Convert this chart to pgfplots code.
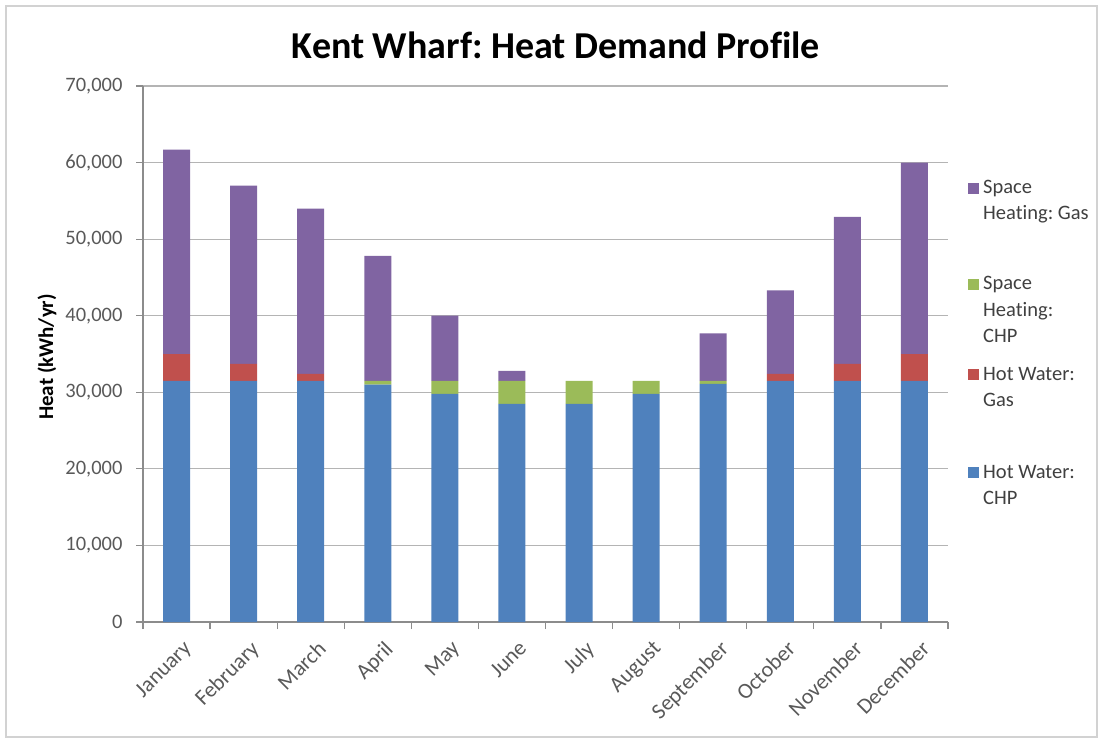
\documentclass[border=0pt]{standalone}
\usepackage{fontspec}
\setmainfont{Carlito}[Ligatures=NoCommon]
\usepackage{pgfplots}
\pgfplotsset{compat=1.18}
\usepackage{pgfplotstable}
\definecolor{hwchp}{HTML}{4F81BD}
\definecolor{hwgas}{HTML}{C0504D}
\definecolor{shchp}{HTML}{9BBB59}
\definecolor{shgas}{HTML}{8064A2}
\definecolor{ticktext}{HTML}{595959}
\definecolor{legtext}{HTML}{404040}
\definecolor{axline}{HTML}{8C8C8C}
\definecolor{gridc}{HTML}{B4B4B4}
\frenchspacing

\pgfplotstableread{
x  hwchp hwgas shchp shgas
0  31500 3500  0     26700
1  31500 2200  0     23300
2  31500 900   0     21600
3  31000 0     500   16300
4  29800 0     1700  8500
5  28500 0     3000  1300
6  28500 0     3000  0
7  29800 0     1700  0
8  31100 0     400   6200
9  31500 900   0     10900
10 31500 2200  0     19200
11 31500 3500  0     25000
}\data

\begin{document}
\begin{tikzpicture}[x=1pt,y=1pt]
\useasboundingbox (0,0) rectangle (1102,740);
\draw[gray!35, line width=1.5pt] (6,3) rectangle (1097,734);
\begin{axis}[
  at={(143pt,118pt)}, anchor=south west,
  scale only axis, width=805pt, height=536pt,
  ybar stacked, bar width=27pt,
  xmin=-0.5, xmax=11.5, ymin=0, ymax=70000,
  ytick={0,10000,...,70000},
  xtick={0,...,11},
  xticklabels={January,February,March,April,May,June,July,August,September,October,November,December},
  minor xtick={-0.5,0.5,...,11.5},
  axis x line*=bottom, axis y line*=left,
  axis line style={draw=axline, line width=1.2pt},
  ymajorgrids, grid style={draw=gridc, line width=1.2pt},
  major x tick style={draw=none},
  minor x tick style={draw=axline, line width=1.2pt},
  major y tick style={draw=axline, line width=1.2pt},
  tick align=outside, major tick length=7pt, minor tick length=7pt,
  scaled y ticks=false,
  /pgf/number format/fixed,
  /pgf/number format/1000 sep={,},
  /pgf/number format/assume math mode=true,
  y tick label style={font=\fontsize{20.5}{24}\selectfont, text=ticktext, anchor=east, xshift=-10pt},
  x tick label style={font=\fontsize{22}{26}\selectfont, text=ticktext, rotate=45, anchor=north east, xshift=0pt, yshift=-8pt},
  clip=false,
]
\addplot[fill=hwchp, draw=none] table[x=x, y=hwchp]{\data};
\addplot[fill=hwgas, draw=none] table[x=x, y=hwgas]{\data};
\addplot[fill=shchp, draw=none] table[x=x, y=shchp]{\data};
\addplot[fill=shgas, draw=none] table[x=x, y=shgas]{\data};
\end{axis}
% title
\node[anchor=base, font=\fontsize{38}{44}\selectfont\bfseries] at (556,681) {Kent Wharf: Heat Demand Profile};
% y label
\node[rotate=90, font=\fontsize{21}{25}\selectfont\bfseries] at (47,383) {Heat (kWh/yr)};
% legend
\begin{scope}[font=\fontsize{20.5}{24}\selectfont, text=legtext]
\fill[shgas] (968,740-194) rectangle (979,740-183);
\node[anchor=base west, inner sep=0] at (983,740-194) {Space};
\node[anchor=base west, inner sep=0] at (983,740-220) {Heating: Gas};
\fill[shchp] (968,740-290) rectangle (979,740-279);
\node[anchor=base west, inner sep=0] at (983,740-290) {Space};
\node[anchor=base west, inner sep=0] at (983,740-316) {Heating:};
\node[anchor=base west, inner sep=0] at (983,740-342) {CHP};
\fill[hwgas] (968,740-380) rectangle (979,740-369);
\node[anchor=base west, inner sep=0] at (983,740-380) {Hot Water:};
\node[anchor=base west, inner sep=0] at (983,740-406) {Gas};
\fill[hwchp] (968,740-478) rectangle (979,740-467);
\node[anchor=base west, inner sep=0] at (983,740-478) {Hot Water:};
\node[anchor=base west, inner sep=0] at (983,740-504) {CHP};
\end{scope}
\end{tikzpicture}
\end{document}
